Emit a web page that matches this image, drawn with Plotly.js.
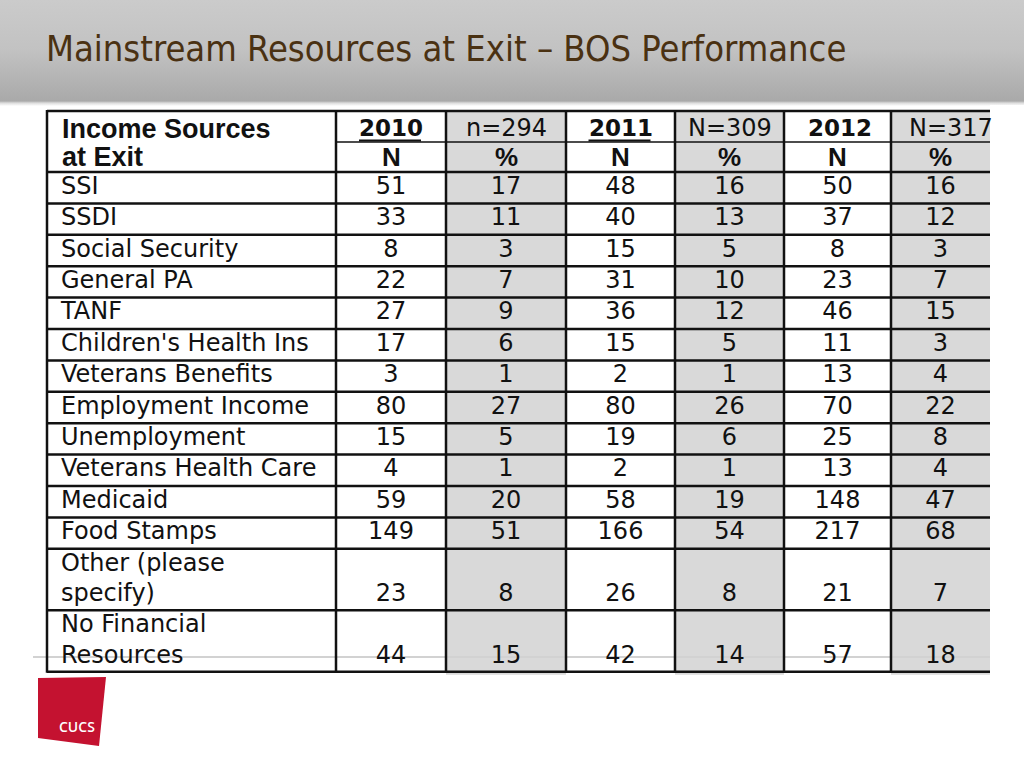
<!DOCTYPE html>
<html><head><meta charset="utf-8">
<script src="https://cdn.plot.ly/plotly-3.0.1.min.js"></script>
<style>
html,body{margin:0;padding:0;}
body{width:1024px;height:768px;overflow:hidden;background:#fff linear-gradient(to bottom,#cbcbcb 0px,#c2c2c2 50px,#a9a9a9 101px,#dcdcdc 103px,#ffffff 106px,#ffffff 768px) no-repeat;}
#chart{width:1024px;height:768px;}
</style></head><body><div id="chart"></div>
<script>
// ---- data ----
const titleText = "Mainstream Resources at Exit – BOS Performance";
const headerLabel = ["Income Sources", "at Exit"];
const years = ["2010", "2011", "2012"];
const sampleSizes = ["n=294", "N=309", "N=317"];
const subHeaders = ["N", "%"];
const categories = ["SSI", "SSDI", "Social Security", "General PA", "TANF",
  "Children's Health Ins", "Veterans Benefits", "Employment Income", "Unemployment",
  "Veterans Health Care", "Medicaid", "Food Stamps", "Other (please\nspecify)",
  "No Financial\nResources"];
const n2010   = [51, 33, 8, 22, 27, 17, 3, 80, 15, 4, 59, 149, 23, 44];
const pct2010 = [17, 11, 3, 7, 9, 6, 1, 27, 5, 1, 20, 51, 8, 15];
const n2011   = [48, 40, 15, 31, 36, 15, 2, 80, 19, 2, 58, 166, 26, 42];
const pct2011 = [16, 13, 5, 10, 12, 5, 1, 26, 6, 1, 19, 54, 8, 14];
const n2012   = [50, 37, 8, 23, 46, 11, 13, 70, 25, 13, 148, 217, 21, 57];
const pct2012 = [16, 12, 3, 7, 15, 3, 4, 22, 8, 4, 47, 68, 7, 18];

// ---- layout geometry ----
const colEdges = [47, 336, 446, 566, 675, 784, 891, 990];
const headTop = 111, headMid = 142, headBot = 172;
const singleH = 31.4, doubleH = 61.5;
const rowEdges = [headBot];
categories.forEach(c => {
  const h = c.includes("\n") ? doubleH : singleH;
  rowEdges.push(rowEdges[rowEdges.length - 1] + h);
});
const tableBottom = rowEdges[rowEdges.length - 1];
const cols = [n2010, pct2010, n2011, pct2011, n2012, pct2012];

const bodyFont = {family: "DejaVu Sans", size: 24, color: "#111"};
const shapes = [];
const lineC = "#111";
// gray shading of % columns (edges 2-3, 4-5, 6-7)
[2, 4, 6].forEach(i => {
  shapes.push({type: "rect", layer: "below", x0: colEdges[i], x1: colEdges[i+1], y0: headTop, y1: tableBottom + 3,
    fillcolor: "#d9d9d9", line: {width: 0}});
});
// footer line
shapes.push({type: "line", layer: "below", x0: 33, x1: 1000, y0: 657, y1: 657, line: {color: "#d2d2d2", width: 2}});
// horizontal lines
shapes.push({type: "line", x0: colEdges[0], x1: colEdges[7], y0: headTop, y1: headTop, line: {color: lineC, width: 2.5}});
shapes.push({type: "line", x0: colEdges[1], x1: colEdges[7], y0: headMid, y1: headMid, line: {color: lineC, width: 1.5}});
rowEdges.forEach(y => shapes.push({type: "line", x0: colEdges[0], x1: colEdges[7], y0: y, y1: y, line: {color: lineC, width: 2.5}}));
// vertical lines
colEdges.slice(0, 7).forEach(x => shapes.push({type: "line", x0: x, x1: x, y0: headTop - 1, y1: tableBottom + 1, line: {color: lineC, width: 2.5}}));
// clip right edge
shapes.push({type: "rect", layer: "above", x0: 990, x1: 1030, y0: 105, y1: 700, fillcolor: "#fff", line: {width: 0}});
// logo
shapes.push({type: "path", path: "M38,678 L106,677 L99,746 L38,738 Z", fillcolor: "#c41230", line: {width: 0}});

const annotations = [];
annotations.push({x: 44, y: 48, xref: "x", yref: "y", text: titleText, showarrow: false, xanchor: "left", yanchor: "middle",
  font: {family: "DejaVu Sans Condensed", size: 36, color: "#4a3112"}});
annotations.push({x: 60, y: 129, text: "<b>" + headerLabel[0] + "</b>", showarrow: false, xanchor: "left", yanchor: "middle",
  font: {family: "Liberation Sans", size: 27, color: "#111"}});
annotations.push({x: 60, y: 157, text: "<b>" + headerLabel[1] + "</b>", showarrow: false, xanchor: "left", yanchor: "middle",
  font: {family: "Liberation Sans", size: 27, color: "#111"}});
years.forEach((yr, k) => {
  const cN = (colEdges[2*k+1] + colEdges[2*k+2]) / 2;
  const cP = (colEdges[2*k+2] + colEdges[2*k+3]) / 2;
  const yrX = cN + (k === 2 ? 2 : 0);
  annotations.push({x: yrX, y: 128, text: "<b>" + yr + "</b>", showarrow: false, xanchor: "center", yanchor: "middle",
    font: {family: "DejaVu Sans", size: 23, color: "#111"}});
  if (k < 2) shapes.push({type: "line", x0: yrX - 32, x1: yrX + 30, y0: 140.5, y1: 140.5, line: {color: lineC, width: 2}});
  annotations.push({x: cP + (k === 2 ? 10 : 0), y: 128, text: sampleSizes[k], showarrow: false, xanchor: "center", yanchor: "middle",
    font: {family: "DejaVu Sans", size: 24, color: "#111"}});
  annotations.push({x: cN, y: 157, text: "<b>" + subHeaders[0] + "</b>", showarrow: false, xanchor: "center", yanchor: "middle",
    font: {family: "Liberation Sans", size: 26, color: "#111"}});
  annotations.push({x: cP, y: 157, text: "<b>" + subHeaders[1] + "</b>", showarrow: false, xanchor: "center", yanchor: "middle",
    font: {family: "Liberation Sans", size: 26, color: "#111"}});
});
annotations.push({x: 77, y: 726, text: "CUCS", showarrow: false, xanchor: "center", yanchor: "middle",
  font: {family: "Open Sans", size: 14, color: "#fff", weight: 600}});

// ---- traces ----
const labX = [], labY = [], labT = [];
categories.forEach((c, i) => {
  const parts = c.split("\n");
  const top = rowEdges[i], bot = rowEdges[i+1];
  if (parts.length === 1) { labX.push(61); labY.push((top + bot) / 2); labT.push(parts[0]); }
  else {
    labX.push(61, 61); labY.push(top + 16, bot - 15); labT.push(parts[0], parts[1]);
  }
});
const traces = [{type: "scatter", mode: "text", x: labX, y: labY, text: labT, textposition: "middle right",
  textfont: bodyFont, hoverinfo: "skip", showlegend: false, cliponaxis: false}];
cols.forEach((vals, j) => {
  const cx = (colEdges[j+1] + colEdges[j+2]) / 2;
  const ys = categories.map((c, i) => c.includes("\n") ? rowEdges[i+1] - 15 : (rowEdges[i] + rowEdges[i+1]) / 2);
  traces.push({type: "scatter", mode: "text", x: vals.map(() => cx), y: ys, text: vals.map(String),
    textposition: "middle center", textfont: bodyFont, hoverinfo: "skip", showlegend: false, cliponaxis: false});
});

Plotly.newPlot("chart", traces, {
  width: 1024, height: 768, margin: {l: 0, r: 0, t: 0, b: 0, pad: 0},
  paper_bgcolor: "rgba(0,0,0,0)", plot_bgcolor: "rgba(0,0,0,0)",
  xaxis: {range: [0, 1024], visible: false, fixedrange: true},
  yaxis: {range: [768, 0], visible: false, fixedrange: true},
  shapes: shapes, annotations: annotations, showlegend: false
}, {staticPlot: true, displayModeBar: false});
</script></body></html>
